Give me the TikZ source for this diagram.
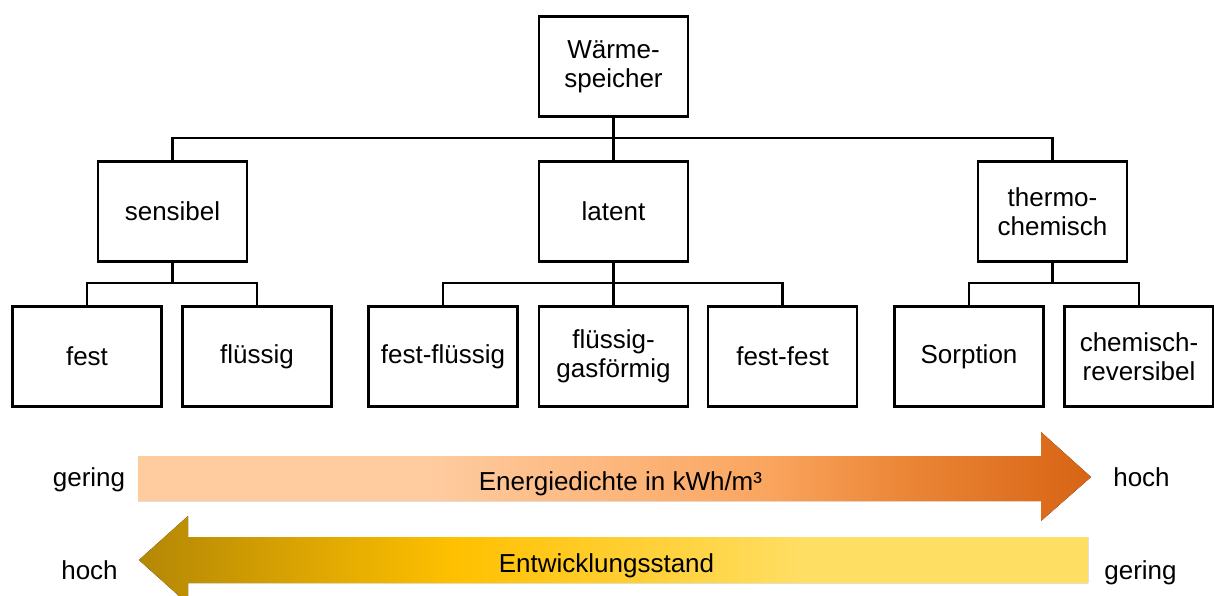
\documentclass[tikz,border=0pt]{standalone}
\usepackage{fontspec}
\setmainfont{Liberation Sans}
\usetikzlibrary{positioning}

\definecolor{peach}{RGB}{255,204,160}
\definecolor{lightorange}{RGB}{250,165,95}
\definecolor{midorange}{RGB}{235,135,55}
\definecolor{darkorange}{RGB}{215,100,20}
\definecolor{darkgold}{RGB}{180,135,5}
\definecolor{amber}{RGB}{255,192,0}
\definecolor{paleyellow}{RGB}{255,222,100}

\pgfdeclarehorizontalshading{energyshade}{100bp}{color(0bp)=(peach); color(25bp)=(peach); color(40bp)=(peach); color(58bp)=(lightorange); color(65bp)=(midorange); color(75bp)=(darkorange); color(100bp)=(darkorange)}
\pgfdeclarehorizontalshading{standshade}{100bp}{color(0bp)=(darkgold); color(25bp)=(darkgold); color(41.6bp)=(amber); color(60bp)=(paleyellow); color(75bp)=(paleyellow); color(100bp)=(paleyellow)}

\begin{document}
\begin{tikzpicture}[x=0.5pt,y=-0.5pt,
  box/.style={draw, line width=1.2pt, minimum width=74.5pt, minimum height=50pt,
    inner sep=0pt, outer sep=0pt, align=center, font=\fontsize{13}{14.5}\selectfont},
  lbl/.style={font=\fontsize{13}{15}\selectfont, inner sep=0pt, anchor=base},
  conn/.style={line width=1.2pt}]
  \useasboundingbox (0,0) rectangle (1214,595);

  % Baum
  \node[box] (top) at (613.5,66.5) {Wärme-\\speicher};
  \node[box, below=22.5pt of top] (latent) {latent};
  \node[box, left=146pt of latent] (sensibel) {sensibel};
  \node[box, right=145pt of latent] (thermo) {thermo-\\chemisch};

  \node[box, below=22.5pt of latent] (flgas) {flüssig-\\gasförmig};
  \node[box, left=10.75pt of flgas] (festfl) {fest-flüssig};
  \node[box, right=10pt of flgas] (festfest) {fest-fest};
  \node[box, below=22.5pt of sensibel, xshift=-42.75pt] (fest) {fest};
  \node[box, right=10.5pt of fest] (fluessig) {flüssig};
  \node[box, below=22.5pt of thermo, xshift=-41.75pt] (sorption) {Sorption};
  \node[box, right=10.5pt of sorption] (chemrev) {chemisch-\\reversibel};

  \foreach \p/\c in {top/sensibel, top/latent, top/thermo,
      sensibel/fest, sensibel/fluessig, latent/festfl, latent/flgas,
      latent/festfest, thermo/sorption, thermo/chemrev}
    \draw[conn] (\p.south) -- ++(0,21.5) -| (\c.north);

  % Pfeile
  \fill[shading=energyshade] (138,456) -- (1041,456) -- (1041,432) -- (1091,477)
    -- (1041,521) -- (1041,501) -- (138,501) -- cycle;
  \fill[shading=standshade] (139,560) -- (188,516) -- (188,537) -- (1088,537)
    -- (1088,583) -- (188,583) -- (188,604) -- cycle;

  \node[lbl] (energie) at (620.5,490) {Energiedichte in kWh/m³};
  \node[lbl] (stand) at (606.5,572) {Entwicklungsstand};
  \node[lbl] (gering1) at (89,486) {gering};
  \node[lbl] (hoch1) at (1141.5,486) {hoch};
  \node[lbl] (hoch2) at (89.5,579) {hoch};
  \node[lbl] (gering2) at (1140.5,579) {gering};
\end{tikzpicture}
\end{document}
